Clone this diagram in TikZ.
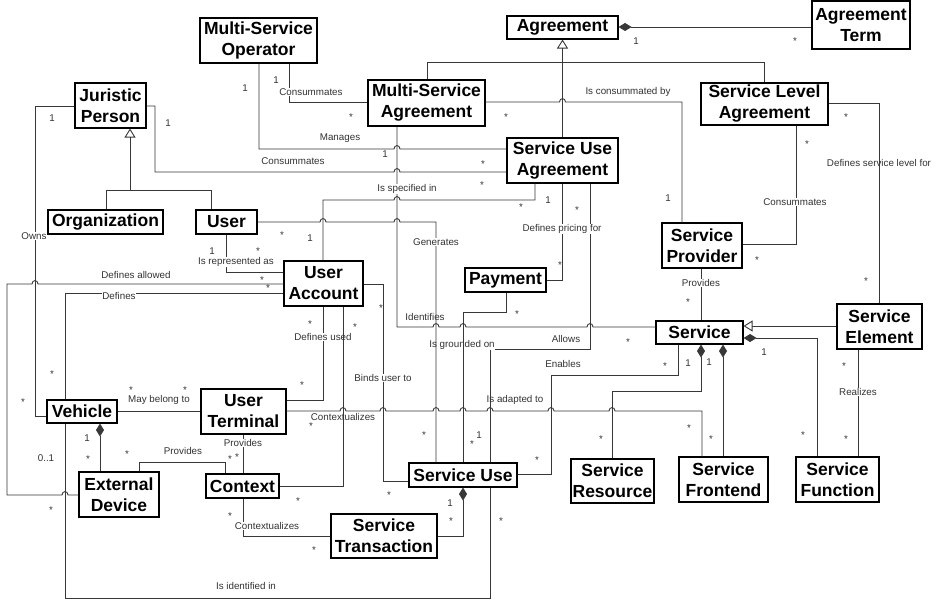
\documentclass[tikz,border=0pt]{standalone}
\usepackage{fontspec}
\setmainfont{Liberation Sans}
\usetikzlibrary{arrows.meta}

\newcommand{\boxfont}{\bfseries\fontsize{17.5}{21}\selectfont}
\newcommand{\lblfont}{\fontsize{9.8}{11}\selectfont}

\begin{document}
\begin{tikzpicture}[x=1pt,y=-1pt,
  box/.style={draw=black,line width=1.1pt,fill=white,inner sep=0pt,align=center,font=\boxfont},
  conn/.style={draw=black!78,line width=0.9pt},
  gen/.style={conn,-{Triangle[open,length=9pt,width=11pt]}},
  comp/.style={conn,-{Diamond[length=13pt,width=8pt]}},
  lbl/.style={font=\lblfont,text=black!80,fill=white,inner sep=0.4pt},
  lblt/.style={font=\lblfont,text=black!80,inner sep=0.4pt},
  mult/.style={font=\lblfont,text=black!80,inner sep=0pt},
  star/.style={mult,yshift=-2pt},
  hop/.style 2 args={insert path={.. controls ({#1-3},{#2-4.5}) and ({#1+3},{#2-4.5}) .. ({#1+3},#2)}},
  hopl/.style 2 args={insert path={.. controls ({#1+3},{#2-4.5}) and ({#1-3},{#2-4.5}) .. ({#1-3},#2)}}]

\fill[white] (0,0) rectangle (936,601);
\useasboundingbox (0,0) rectangle (936,601);

% ---------- classes ----------
\node[box,minimum width=117pt,minimum height=45pt] (mso) at (258.5,40.5) {Multi-Service\\Operator};
\node[box,minimum width=71pt,minimum height=45pt] (jp) at (110.5,105.5) {Juristic\\Person};
\node[box,minimum width=111pt,minimum height=23pt] (agr) at (562.5,27.5) {Agreement};
\node[box,minimum width=98pt,minimum height=48pt] (at) at (861,25) {Agreement\\Term};
\node[box,minimum width=117pt,minimum height=46pt] (msa) at (426.5,103) {Multi-Service\\Agreement};
\node[box,minimum width=127pt,minimum height=42pt] (sla) at (764.5,104) {Service Level\\Agreement};
\node[box,minimum width=111pt,minimum height=45pt] (sua) at (562.5,160.5) {Service Use\\Agreement};
\node[box,minimum width=115pt,minimum height=24pt] (org) at (105.5,222) {Organization};
\node[box,minimum width=61pt,minimum height=24pt] (user) at (226.5,222) {User};
\node[box,minimum width=79pt,minimum height=45pt] (ua) at (323.5,283.5) {User\\Account};
\node[box,minimum width=81pt,minimum height=24pt] (pay) at (505.5,280) {Payment};
\node[box,minimum width=80pt,minimum height=45pt] (sp) at (702,245.5) {Service\\Provider};
\node[box,minimum width=87pt,minimum height=23pt] (svc) at (699.5,332.5) {Service};
\node[box,minimum width=85pt,minimum height=45pt] (se) at (879.5,326.5) {Service\\Element};
\node[box,minimum width=70pt,minimum height=23pt] (veh) at (82,411.5) {Vehicle};
\node[box,minimum width=85pt,minimum height=45pt] (ut) at (243.5,411.5) {User\\Terminal};
\node[box,minimum width=80pt,minimum height=45pt] (ed) at (119,494.5) {External\\Device};
\node[box,minimum width=73pt,minimum height=24pt] (ctx) at (242.5,486) {Context};
\node[box,minimum width=108pt,minimum height=24pt] (su) at (463,475) {Service Use};
\node[box,minimum width=106pt,minimum height=44pt] (st) at (384,536) {Service\\Transaction};
\node[box,minimum width=83pt,minimum height=44pt] (sr) at (612.5,481) {Service\\Resource};
\node[box,minimum width=89pt,minimum height=45pt] (sf) at (723.5,479.5) {Service\\Frontend};
\node[box,minimum width=83pt,minimum height=45pt] (sfn) at (837.5,479.5) {Service\\Function};

% ---------- generalisations ----------
\draw[gen] (sua.north) -- (agr.south);
\draw[conn] (msa.north -| 427,0) -- (427,62) -- (764,62) -- (sla.north -| 764,0);
\draw[conn] (org.north -| 106,0) |- (211,190) -- (user.north -| 211,0);
\coordinate (jpfork) at (130,190);
\draw[gen] (jpfork) -- (jp.south -| 130,0);
\draw[gen] (se.west |- 0,326) -- (svc.east |- 0,326);

% ---------- compositions ----------
\draw[comp] (at.west |- 0,27) -- (agr.east |- 0,27);
\draw[comp] (sfn.north -| 817,0) |- (svc.east |- 0,338);
\draw[comp] (sf.north -| 723,0) -- (svc.south -| 723,0);
\draw[comp] (sr.north) |- (701,391) -- (svc.south -| 701,0);
\draw[comp] (ed.north -| 100,0) -- (veh.south -| 100,0);
\draw[comp] (st.east |- 0,536) -| (su.south -| 463,0);

% ---------- associations ----------
\draw[conn] (mso.south -| 289,0) |- (msa.west |- 0,102);
\draw[conn] (mso.south -| 259,0) |- (394,149) [hop={397}{149}] -- (sua.west |- 0,149);
\draw[conn] (jp.east |- 0,106) -- (155,106) -- (155,172) -- (394,172) [hop={397}{172}] -- (sua.west |- 0,172);
\draw[conn] (jp.west |- 0,106) -- (35,106) -- (35,416) -- (veh.west |- 0,416);
\draw[conn] (msa.east |- 0,102) -- (559.5,102) [hop={562.5}{102}] -- (682,102) -- (sp.north -| 682,0);
\draw[conn] (sla.south -| 796,0) |- (sp.east |- 0,244);
\draw[conn] (sla.east |- 0,103) -| (se.north -| 879,0);
\draw[conn] (sp.south -| 701,0) -- (svc.north -| 701,0);
\draw[conn] (se.south -| 858,0) -- (sfn.north -| 858,0);
\draw[conn] (su.east |- 0,474) -- (551,474) -- (551,375) -- (678,375) -- (svc.south -| 678,0);
\draw[conn] (sua.south -| 562,0) |- (pay.east |- 0,280);
\draw[conn] (sua.south -| 590,0) -- (590,349) -- (490,349) -- (su.north -| 490,0);
\draw[conn] (sua.south -| 535,0) -- (535,200) -- (400,200) [hopl={397}{200}] -- (323,200) -- (ua.north -| 323,0);
\draw[conn] (msa.south -| 397,0) -- (397,327) -- (433,327) [hop={436}{327}] -- (460,327) [hop={463}{327}]
  -- (587,327) [hop={590}{327}] -- (svc.west |- 0,327);
\draw[conn] (user.south -| 226,0) |- (ua.west |- 0,272);
\draw[conn] (ua.west |- 0,284) -- (38,284) [hopl={35}{284}] -- (7,284) -- (7,495) -- (62,495) [hop={65}{495}] -- (ed.west |- 0,495);
\draw[conn] (ua.west |- 0,293) -- (65,293) -- (veh.north -| 65,0);
\draw[conn] (ua.south -| 323,0) |- (ut.east |- 0,400);
\draw[conn] (ua.east |- 0,284) -- (383,284) -- (383,481) -- (su.west |- 0,481);
\draw[conn] (ut.east |- 0,411) -- (340,411) [hop={343}{411}] -- (380,411) [hop={383}{411}] -- (433,411) [hop={436}{411}]
  -- (460,411) [hop={463}{411}] -- (487,411) [hop={490}{411}] -- (548,411) [hop={551}{411}]
  -- (609,411) [hop={612}{411}] -- (702,411) -- (sf.north -| 702,0);
\draw[conn] (veh.east |- 0,411) -- (ut.west |- 0,411);
\draw[conn] (ed.north -| 139,0) |- (225,462) -- (ctx.north -| 225,0);
\draw[conn] (ut.south -| 243,0) -- (ctx.north -| 243,0);
\draw[conn] (ctx.south -| 243,0) |- (st.west |- 0,536);
\draw[conn] (su.south -| 490,0) -- (490,598) -- (65,598) -- (veh.south -| 65,0);

% multiplicities sitting just above role names
\node[star] (m01) at (258,249) {*};
\node[star] (m02) at (131,388) {*};
\node[star] (m03) at (185,388) {*};

% ---------- role names ----------
\node[lbl] (l01) at (311,92) {Consummates};
\node[lbl] (l02) at (340,138) {Manages};
\node[lbl] (l03) at (293,161) {Consummates};
\node[lbl] (l04) at (407,189) {Is specified in};
\node[lbl] (l05) at (628,92) {Is consummated by};
\node[lbl] (l06) at (795,202) {Consummates};
\node[lblt] (l07) at (879,163) {Defines service level for};
\node[lbl] (l08) at (701,283) {Provides};
\node[lbl] (l09) at (562,229) {Defines pricing for};
\node[lbl] (l10) at (236,262) {Is represented as};
\node[lbl] (l11) at (136,275) {Defines allowed};
\node[lbl] (l12) at (119,296) {Defines};
\node[lbl] (l13) at (34,236) {Owns};
\node[lbl] (l14) at (323,337) {Defines used};
\node[lbl] (l15) at (383,378) {Binds user to};
\node[lbl] (l16) at (425,317) {Identifies};
\node[lbl] (l17) at (462,345) {Is grounded on};
\node[lbl] (l18) at (566,339) {Allows};
\node[lbl] (l19) at (563,364) {Enables};
\node[lblt] (l20) at (515,400) {Is adapted to};
\node[lbl] (l21) at (858,392) {Realizes};
\node[lbl] (l22) at (159,400) {May belong to};
\node[lbl] (l23) at (343,417) {Contextualizes};
\node[lbl] (l24) at (243,443) {Provides};
\node[lbl] (l25) at (183,451) {Provides};
\node[lbl] (l26) at (267,526) {Contextualizes};
\node[lbl] (l27) at (246,586) {Is identified in};

% ---------- connectors drawn across other role names ----------
\draw[conn] (ua.south -| 343,0) -- (343,486) -- (ctx.east |- 0,486);
\draw[conn] (user.east |- 0,222) -- (320,222) [hop={323}{222}] -- (394,222) [hop={397}{222}] -- (436,222) -- (su.north -| 436,0);
\node[lbl] (l28) at (436,242) {Generates};
\draw[conn] (pay.south -| 506,0) -- (506,312) -- (463,312) -- (su.north -| 463,0);

% ---------- multiplicities ----------
\node[mult] (n01) at (636,41) {1};
\node[star] (n02) at (795,39) {*};
\node[mult] (n03) at (276,80) {1};
\node[star] (n04) at (351,115) {*};
\node[mult] (n05) at (245,88) {1};
\node[mult] (n06) at (385,154) {1};
\node[star] (n07) at (483,162) {*};
\node[mult] (n08) at (168,123) {1};
\node[star] (n09) at (482,183) {*};
\node[mult] (n10) at (52,118) {1};
\node[star] (n11) at (23,400) {*};
\node[star] (n12) at (506,115) {*};
\node[mult] (n13) at (668,198) {1};
\node[star] (n14) at (807,142) {*};
\node[star] (n15) at (757,258) {*};
\node[star] (n16) at (846,115) {*};
\node[star] (n17) at (866,279) {*};
\node[star] (n18) at (688,300) {*};
\node[mult] (n19) at (688,363) {1};
\node[star] (n20) at (601,437) {*};
\node[mult] (n21) at (709,362) {1};
\node[star] (n22) at (711,437) {*};
\node[mult] (n23) at (764,352) {1};
\node[star] (n24) at (803,433) {*};
\node[star] (n25) at (844,364) {*};
\node[star] (n26) at (846,437) {*};
\node[star] (n27) at (665,364) {*};
\node[star] (n28) at (537,458) {*};
\node[mult] (n29) at (548,200) {1};
\node[star] (n30) at (560,263) {*};
\node[star] (n31) at (577,208) {*};
\node[star] (n32) at (472,442) {*};
\node[star] (n33) at (521,205) {*};
\node[mult] (n34) at (310,238) {1};
\node[star] (n35) at (628,340) {*};
\node[star] (n36) at (282,233) {*};
\node[star] (n37) at (424,433) {*};
\node[star] (n38) at (517,312) {*};
\node[mult] (n39) at (479,435) {1};
\node[mult] (n40) at (212,251) {1};
\node[star] (n41) at (262,278) {*};
\node[star] (n42) at (51,508) {*};
\node[star] (n43) at (268,286) {*};
\node[star] (n44) at (52,372) {*};
\node[star] (n45) at (310,322) {*};
\node[star] (n46) at (302,383) {*};
\node[star] (n47) at (381,306) {*};
\node[star] (n48) at (389,493) {*};
\node[star] (n49) at (355,325) {*};
\node[star] (n50) at (298,499) {*};
\node[star] (n51) at (311,424) {*};
\node[star] (n52) at (689,426) {*};
\node[mult] (n53) at (87,438) {1};
\node[star] (n54) at (88,457) {*};
\node[star] (n55) at (127,452) {*};
\node[star] (n56) at (230,457) {*};
\node[star] (n57) at (237,455) {*};
\node[star] (n58) at (230,514) {*};
\node[star] (n59) at (314,548) {*};
\node[mult] (n60) at (450,503) {1};
\node[star] (n61) at (451,519) {*};
\node[star] (n62) at (501,519) {*};
\node[mult] (n63) at (46,458) {0..1};

\end{tikzpicture}
\end{document}
